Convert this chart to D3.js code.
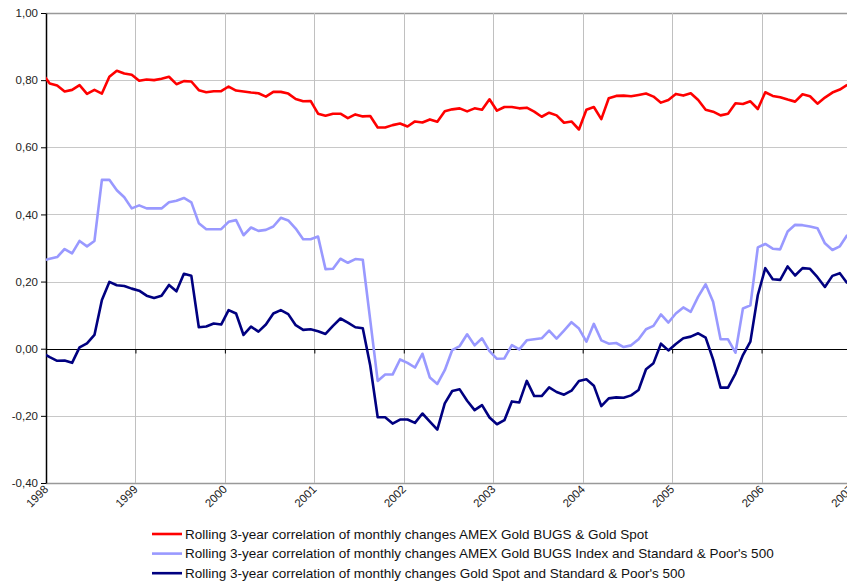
<!DOCTYPE html>
<html lang="en">
<head>
<meta charset="UTF-8">
<title>Rolling correlations</title>
<style>
  body { margin: 0; background: #fff; }
  svg { display: block; font-family: "Liberation Sans", Arial, sans-serif; }
</style>
</head>
<body>
<script src="https://d3js.org/d3.v7.min.js"></script>
<svg id="chart"></svg>
<script>
// month categories, Dec 1997 .. Dec 2006 (first point sits just left of the axis)
var months = d3.timeMonth.range(new Date(1997, 11, 1), new Date(2007, 0, 1));
var yearLabels = ["1998", "1999", "2000", "2001", "2002", "2003", "2004", "2005", "2006", "2007"];
var yTicks = [-0.4, -0.2, 0, 0.2, 0.4, 0.6, 0.8, 1.0];

var seriesNames = [
  "Rolling 3-year correlation of monthly changes AMEX Gold BUGS & Gold Spot",
  "Rolling 3-year correlation of monthly changes AMEX Gold BUGS Index and Standard & Poor's 500",
  "Rolling 3-year correlation of monthly changes Gold Spot and Standard & Poor's 500"
];
var seriesColors = ["#ff0000", "#9999ff", "#000080"];

var bugsGold = [0.82,
  0.79, 0.784, 0.766, 0.771, 0.785, 0.759, 0.771, 0.76, 0.81, 0.828, 0.82, 0.816,
  0.798, 0.802, 0.80, 0.804, 0.81, 0.788, 0.797, 0.796, 0.77, 0.764, 0.767, 0.767,
  0.781, 0.769, 0.766, 0.763, 0.761, 0.751, 0.765, 0.765, 0.76, 0.744, 0.737, 0.738,
  0.70, 0.694, 0.70, 0.70, 0.687, 0.698, 0.692, 0.693, 0.659, 0.659, 0.666, 0.671,
  0.662, 0.677, 0.674, 0.683, 0.676, 0.707, 0.713, 0.716, 0.707, 0.716, 0.712, 0.743,
  0.709, 0.72, 0.72, 0.716, 0.718, 0.706, 0.691, 0.703, 0.695, 0.673, 0.677, 0.653,
  0.712, 0.72, 0.684, 0.746, 0.753, 0.754, 0.752, 0.756, 0.76, 0.751, 0.733, 0.741,
  0.759, 0.754, 0.761, 0.741, 0.712, 0.706, 0.695, 0.70, 0.731, 0.729, 0.737, 0.714,
  0.764, 0.753, 0.749, 0.742, 0.736, 0.758, 0.752, 0.73, 0.748, 0.763, 0.772, 0.786];

var bugsSp = [0.262,
  0.268, 0.273, 0.297, 0.284, 0.321, 0.305, 0.321, 0.503, 0.503, 0.472, 0.451, 0.418,
  0.427, 0.418, 0.418, 0.418, 0.436, 0.441, 0.449, 0.436, 0.374, 0.356, 0.356, 0.356,
  0.378, 0.383, 0.338, 0.361, 0.351, 0.354, 0.364, 0.39, 0.382, 0.358, 0.326, 0.326,
  0.334, 0.237, 0.238, 0.268, 0.256, 0.267, 0.265, 0.085, -0.096, -0.077, -0.077, -0.032,
  -0.042, -0.056, -0.015, -0.086, -0.105, -0.064, -0.004, 0.008, 0.043, 0.01, 0.031, -0.007,
  -0.03, -0.029, 0.011, -0.002, 0.025, 0.028, 0.031, 0.054, 0.03, 0.054, 0.079, 0.06,
  0.021, 0.074, 0.025, 0.015, 0.017, 0.005, 0.01, 0.028, 0.058, 0.068, 0.102, 0.078,
  0.105, 0.123, 0.11, 0.155, 0.192, 0.14, 0.028, 0.028, -0.012, 0.12, 0.129, 0.302,
  0.312, 0.298, 0.296, 0.349, 0.369, 0.368, 0.364, 0.359, 0.314, 0.294, 0.305, 0.339];

var goldSp = [-0.012,
  -0.025, -0.036, -0.035, -0.042, 0.004, 0.016, 0.041, 0.145, 0.199, 0.189, 0.187, 0.179,
  0.173, 0.158, 0.151, 0.158, 0.19, 0.171, 0.223, 0.217, 0.064, 0.066, 0.075, 0.072,
  0.115, 0.105, 0.041, 0.066, 0.051, 0.072, 0.105, 0.115, 0.103, 0.07, 0.056, 0.058,
  0.052, 0.044, 0.068, 0.09, 0.078, 0.064, 0.061, -0.05, -0.204, -0.204, -0.223, -0.211,
  -0.211, -0.221, -0.193, -0.217, -0.241, -0.163, -0.126, -0.121, -0.155, -0.183, -0.168, -0.205,
  -0.225, -0.213, -0.157, -0.16, -0.096, -0.141, -0.141, -0.115, -0.129, -0.137, -0.125, -0.096,
  -0.091, -0.11, -0.171, -0.148, -0.145, -0.146, -0.139, -0.123, -0.061, -0.043, 0.015, -0.005,
  0.014, 0.031, 0.036, 0.046, 0.033, -0.032, -0.116, -0.116, -0.074, -0.019, 0.021, 0.16,
  0.24, 0.207, 0.205, 0.245, 0.218, 0.24, 0.238, 0.213, 0.184, 0.217, 0.225, 0.195];

var W = 847, H = 586;
var plotL = 46, plotT = 13, plotR = 851, plotB = 483;

var svg = d3.select("#chart").attr("width", W).attr("height", H);

var start = new Date(1998, 0, 1);
// month index from Jan 1998, points sit in the middle of each month
var x = d3.scaleLinear().domain([0, 108]).range([plotL, plotR]);
var y = d3.scaleLinear().domain([-0.4, 1.0]).range([plotB, plotT]);
var monthIdx = months.map(function(m) { return d3.timeMonth.count(start, m) + 0.5; });

svg.append("clipPath").attr("id", "plotClip")
  .append("rect").attr("x", plotL).attr("y", plotT - 2)
  .attr("width", plotR - plotL).attr("height", plotB - plotT + 4);

// horizontal gridlines
svg.append("g")
  .selectAll("line")
  .data(yTicks.filter(function(d) { return d !== 0; }))
  .enter().append("line")
    .attr("x1", plotL).attr("x2", W)
    .attr("y1", function(d) { return Math.round(y(d)) + 0.5; })
    .attr("y2", function(d) { return Math.round(y(d)) + 0.5; })
    .attr("stroke", function(d) { return (d === 1.0 || d === -0.4) ? "#999" : "#c8c8c8"; })
    .attr("stroke-width", function(d) { return (d === 1.0 || d === -0.4) ? 1.5 : 1; });

// vertical year gridlines
svg.append("g")
  .selectAll("line")
  .data(yearLabels.slice(1))
  .enter().append("line")
    .attr("x1", function(d, i) { return Math.round(x((i + 1) * 12)) + 0.5; })
    .attr("x2", function(d, i) { return Math.round(x((i + 1) * 12)) + 0.5; })
    .attr("y1", plotT).attr("y2", plotB)
    .attr("stroke", "#c0c0c0");

// zero line with year ticks below it
var zeroAxis = d3.axisBottom(x)
  .tickValues(d3.range(0, 109, 12))
  .tickSize(4).tickSizeOuter(0)
  .tickFormat("");
svg.append("g")
  .attr("transform", "translate(0," + (Math.round(y(0)) + 0.5) + ")")
  .call(zeroAxis)
  .call(function(g) {
    g.select(".domain").attr("stroke", "#000").attr("d", "M" + plotL + ",0H" + W);
    g.selectAll(".tick line").attr("stroke", "#000");
  });

// left axis
var yAxis = d3.axisLeft(y)
  .tickValues(yTicks)
  .tickSize(5).tickSizeOuter(0)
  .tickFormat(function(d) { return d3.format(".2f")(d).replace(".", ",").replace("−", "-"); });
svg.append("g")
  .attr("transform", "translate(" + plotL + ",0)")
  .call(yAxis)
  .call(function(g) {
    g.select(".domain").attr("stroke", "#000").attr("stroke-width", 1.5);
    g.selectAll(".tick line").attr("stroke", "#000");
    g.selectAll(".tick text").attr("font-size", 11.5).attr("fill", "#222")
      .attr("font-family", "Liberation Sans, Arial, sans-serif").attr("x", -8);
  });

// year labels under the plot
svg.append("g")
  .selectAll("text")
  .data(yearLabels)
  .enter().append("text")
    .attr("transform", function(d, i) {
      return "translate(" + (x(i * 12) + 3) + "," + (plotB + 7) + ") rotate(-45)";
    })
    .attr("text-anchor", "end")
    .attr("font-size", 11.5)
    .attr("fill", "#222")
    .text(function(d) { return d; });

// series lines
var series = [bugsGold, bugsSp, goldSp];
var line = d3.line()
  .x(function(d, i) { return x(monthIdx[i]); })
  .y(function(d) { return y(d); });

svg.append("g")
  .attr("clip-path", "url(#plotClip)")
  .selectAll("path")
  .data(series)
  .enter().append("path")
    .attr("d", line)
    .attr("fill", "none")
    .attr("stroke", function(d, i) { return seriesColors[i]; })
    .attr("stroke-width", 2.6)
    .attr("stroke-linejoin", "round");

// legend
var legend = svg.append("g").attr("transform", "translate(152,534)");
var item = legend.selectAll("g")
  .data(seriesNames)
  .enter().append("g")
    .attr("transform", function(d, i) { return "translate(0," + (i * 19.6) + ")"; });
item.append("line")
  .attr("x1", 0).attr("x2", 30)
  .attr("stroke", function(d, i) { return seriesColors[i]; })
  .attr("stroke-width", 2.6);
item.append("text")
  .attr("x", 33).attr("dy", "0.36em")
  .attr("font-size", 13.5)
  .attr("fill", "#111")
  .text(function(d) { return d; });
</script>
</body>
</html>
